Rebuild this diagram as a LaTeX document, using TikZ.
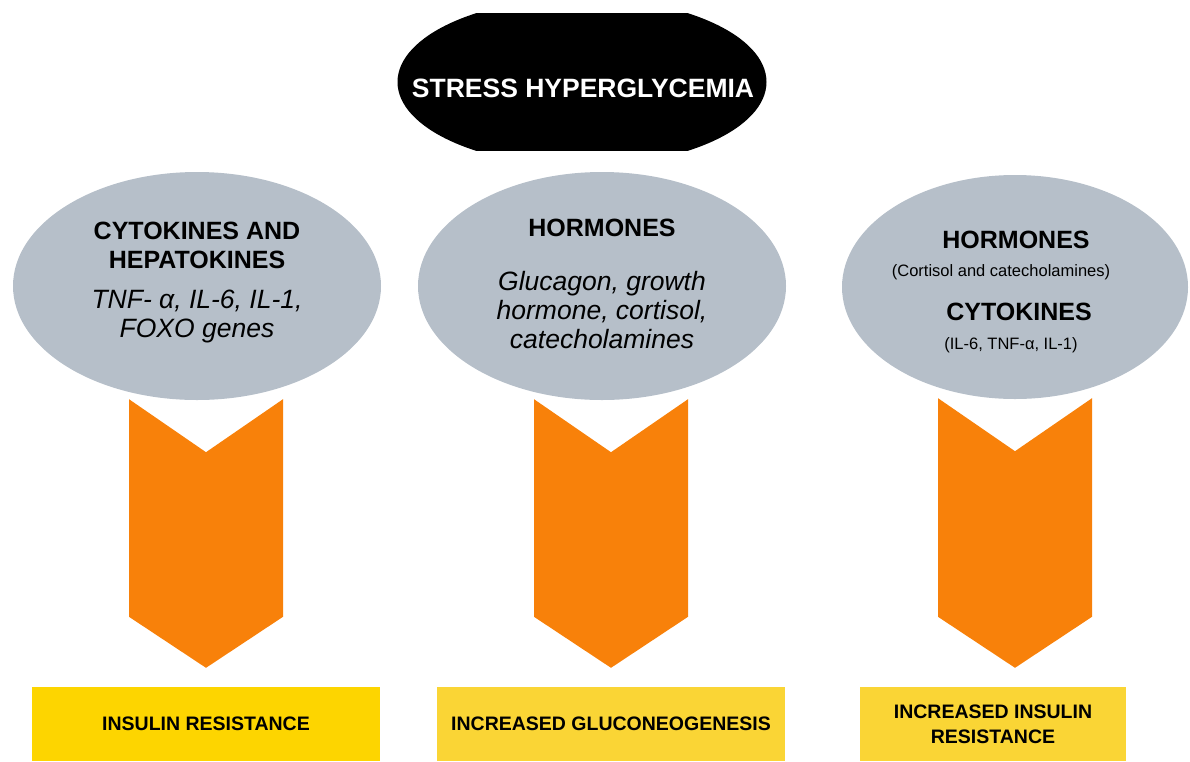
\documentclass[tikz,border=0pt]{standalone}
\usepackage{fontspec}
\setmainfont{Liberation Sans}
\usepackage{xcolor}
\usepackage{tikz}
\usetikzlibrary{shapes.geometric, positioning, calc}

\definecolor{bubblegray}{HTML}{B6BFC9}
\definecolor{chevronorange}{HTML}{F8810A}
\definecolor{boxgold}{HTML}{FDD500}
\definecolor{boxyellow}{HTML}{FAD535}

\tikzstyle{bubble} = [ellipse, fill=bubblegray, inner sep=0pt]
\tikzstyle{heading} = [font=\bfseries\fontsize{25}{29}\selectfont, align=center, inner sep=0pt]
\tikzstyle{detail} = [font=\itshape\fontsize{26.5}{29}\selectfont, align=center, inner sep=0pt]
\tikzstyle{note} = [font=\fontsize{16.5}{19}\selectfont, align=center, inner sep=0pt]
\tikzstyle{outcome} = [rectangle, inner sep=0pt, minimum height=74pt, font=\bfseries\fontsize{19.5}{25}\selectfont, align=center]

\begin{document}
\begin{tikzpicture}[x=1pt, y=-1pt]
\useasboundingbox (0,0) rectangle (1190,761);

% Title
\begin{scope}
\clip (390,13) rectangle (780,150);
\node (title) at (582,82) [ellipse, fill=black, minimum width=369pt, minimum height=168pt, inner sep=0pt] {};
\end{scope}
\node (titletext) at (583,88) [text=white, inner sep=0pt, font=\bfseries\fontsize{26.5}{30}\selectfont] {STRESS HYPERGLYCEMIA};

% Grey bubbles
\node (cyto) at (197,286) [bubble, minimum width=368pt, minimum height=228pt] {};
\node (horm) at (602,286) [bubble, minimum width=368pt, minimum height=228pt] {};
\node (mixed) at (1015,287) [bubble, minimum width=346pt, minimum height=224pt] {};

% Bubble texts
\node (cytohead) at (197,245) [heading] {CYTOKINES AND\\HEPATOKINES};
\node (cytolist) at (197,316) [detail] {TNF- α, IL-6, IL-1,\\FOXO genes};
\node (hormhead) at (602,228) [heading] {HORMONES};
\node (hormlist) at (602,310) [detail] {Glucagon, growth\\hormone, cortisol,\\catecholamines};
\node (mixhead) at (1016,240) [heading] {HORMONES};
\node (mixnote) at (1001,272) [note] {(Cortisol and catecholamines)};
\node (cytohead2) at (1019,312) [heading] {CYTOKINES};
\node (cytonote) at (1011,345) [note] {(IL-6, TNF-α, IL-1)};

% Outcomes
\node (res1) at (206,724) [outcome, fill=boxgold, minimum width=348pt] {INSULIN RESISTANCE};
\node (gluco) at (611,724) [outcome, fill=boxyellow, minimum width=348pt] {INCREASED GLUCONEOGENESIS};
\node (res2) at (993,724) [outcome, fill=boxyellow, minimum width=266pt] {INCREASED INSULIN\\RESISTANCE};

% Chevrons
\foreach \cx/\src/\dst in {206/cyto/res1, 611/horm/gluco, 1015/mixed/res2} {
  \coordinate (ctop) at (\cx,0 |- \src.south);
  \coordinate (cend) at (\cx,0 |- \dst.north);
  \fill [chevronorange] ($(ctop)+(-77,-1)$) -- ($(ctop)+(0,52)$) -- ($(ctop)+(77,-1)$)
    -- ($(cend)+(77,-70)$) -- ($(cend)+(0,-19)$) -- ($(cend)+(-77,-70)$) -- cycle;
}

\end{tikzpicture}
\end{document}
